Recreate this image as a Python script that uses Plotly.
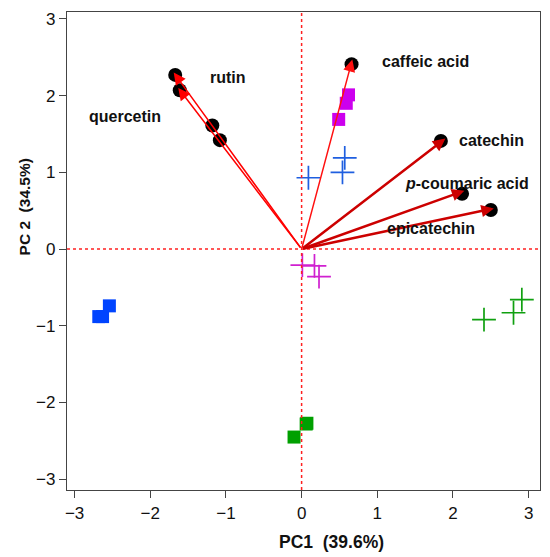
import plotly.graph_objects as go

# ---- data ----
var_names = ["rutin", "quercetin", "caffeic acid", "catechin", "p-coumaric acid", "epicatechin"]
var_labels = ["<b>rutin</b>", "<b>quercetin</b>", "<b>caffeic acid</b>", "<b>catechin</b>",
              "<b><i>p</i>-coumaric acid</b>", "<b>epicatechin</b>"]
load_x = [-1.69, -1.63, 0.67, 1.90, 2.15, 2.54]
load_y = [2.30, 2.10, 2.47, 1.44, 0.76, 0.53]
label_x = [-0.97, -2.33, 1.64, 2.51, 2.18, 1.71]
label_y = [2.24, 1.73, 2.44, 1.42, 0.86, 0.27]

black_x = [-1.67, -1.61, -1.18, -1.08, 0.66, 1.84, 2.12, 2.50]
black_y = [2.27, 2.07, 1.61, 1.42, 2.41, 1.41, 0.72, 0.51]

blue_sq_x = [-2.68, -2.63, -2.54]
blue_sq_y = [-0.88, -0.88, -0.74]
green_sq_x = [-0.10, 0.07, 0.06]
green_sq_y = [-2.45, -2.27, -2.28]
mag_sq_x = [0.49, 0.59, 0.62]
mag_sq_y = [1.69, 1.90, 2.01]

blue_cr_x = [0.09, 0.57, 0.54]
blue_cr_y = [0.93, 1.19, 1.00]
mag_cr_x = [0.01, 0.17, 0.23]
mag_cr_y = [-0.21, -0.22, -0.36]
green_cr_x = [2.41, 2.80, 2.91]
green_cr_y = [-0.92, -0.83, -0.66]

ticks = [-3, -2, -1, 0, 1, 2, 3]

FONT = "Liberation Sans, Arial, sans-serif"
fig = go.Figure()

def sq(x, y, color):
    fig.add_trace(go.Scatter(x=x, y=y, mode="markers",
                             marker=dict(symbol="square", size=13, color=color,
                                         line=dict(width=0)),
                             showlegend=False, hoverinfo="skip"))

def cr(x, y, color):
    fig.add_trace(go.Scatter(x=x, y=y, mode="markers",
                             marker=dict(symbol="cross-thin", size=17, color=color,
                                         line=dict(width=1.7, color=color)),
                             showlegend=False, hoverinfo="skip"))

sq(blue_sq_x, blue_sq_y, "#0044FF")
sq(green_sq_x, green_sq_y, "#00A000")
sq(mag_sq_x, mag_sq_y, "#CC00EE")
cr(blue_cr_x, blue_cr_y, "#1F5FE0")
cr(mag_cr_x, mag_cr_y, "#D020D0")
cr(green_cr_x, green_cr_y, "#10A010")

fig.add_trace(go.Scatter(x=black_x, y=black_y, mode="markers",
                         marker=dict(symbol="circle", size=14, color="black"),
                         showlegend=False, hoverinfo="skip"))

# reference lines at 0
fig.add_shape(type="line", x0=0, x1=0, y0=0, y1=1, xref="x", yref="paper",
              line=dict(color="#FF2020", width=1.5, dash="dot"))
fig.add_shape(type="line", x0=0, x1=1, y0=0, y1=0, xref="paper", yref="y",
              line=dict(color="#FF2020", width=1.5, dash="dot"))

# loading arrows
arrow_col = ["#FF0000", "#FF0000", "#FF1010", "#CC0000", "#CC0000", "#CC0000"]
arrow_w = [1.5, 1.5, 1.5, 2.5, 2.5, 2.5]
for i in range(len(var_names)):
    fig.add_annotation(x=load_x[i], y=load_y[i], ax=0, ay=0, xref="x", yref="y",
                       axref="x", ayref="y", text="", showarrow=True,
                       arrowhead=2, arrowsize=1.6 if arrow_w[i] < 2 else 1.0,
                       arrowwidth=arrow_w[i], arrowcolor=arrow_col[i])
    fig.add_annotation(x=label_x[i], y=label_y[i], xref="x", yref="y",
                       text=var_labels[i], showarrow=False,
                       xanchor="center", yanchor="middle",
                       font=dict(family=FONT, size=16, color="#111"))

# axis titles
fig.add_annotation(x=0.559, y=-0.108, xref="paper", yref="paper",
                   xanchor="center", yanchor="middle",
                   text="<b>PC1  (39.6%)</b>", showarrow=False,
                   font=dict(family=FONT, size=17.5, color="#111"))
fig.add_annotation(x=-0.089, y=0.593, xref="paper", yref="paper", textangle=-90,
                   xanchor="center", yanchor="middle",
                   text="<b>PC 2  (34.5%)</b>", showarrow=False,
                   font=dict(family=FONT, size=15.5, color="#111"))

axis_common = dict(showgrid=False, zeroline=False, showline=True, mirror=True,
                   linecolor="#444", linewidth=1.2, ticks="outside", ticklen=7,
                   tickwidth=1.2, tickcolor="#444", tickvals=ticks,
                   ticklabeloverflow="allow",
                   tickfont=dict(family=FONT, size=17, color="#111"))

fig.update_xaxes(range=[-3.1, 3.15], **axis_common)
fig.update_yaxes(range=[-3.14, 3.09], **axis_common)

# the page body adds an 8px offset, so the figure is sized/shifted to compensate
fig.update_layout(width=542, height=549, margin=dict(l=59, r=10, t=2, b=67),
                  plot_bgcolor="white", paper_bgcolor="white", showlegend=False)

fig.write_html("out.html")
